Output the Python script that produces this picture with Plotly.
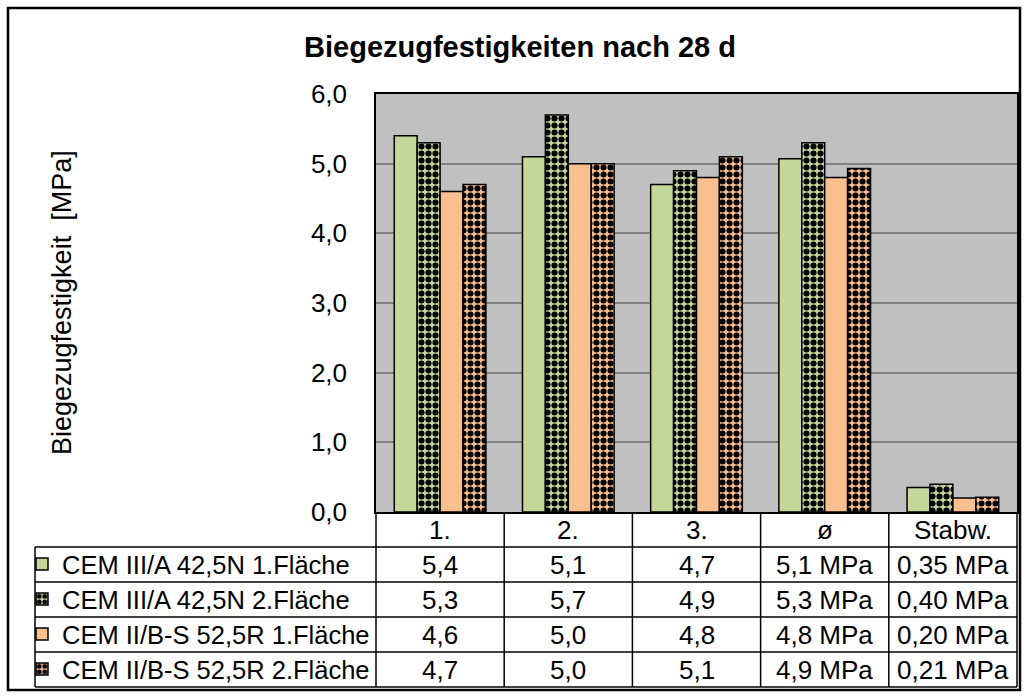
import plotly.graph_objects as go

W, H = 1028, 697

categories = ["1.", "2.", "3.", "ø", "Stabw."]
series_names = [
    "CEM III/A 42,5N 1.Fläche",
    "CEM III/A 42,5N 2.Fläche",
    "CEM II/B-S 52,5R 1.Fläche",
    "CEM II/B-S 52,5R 2.Fläche",
]
cem3_f1 = [5.4, 5.1, 4.7, 5.07, 0.35]
cem3_f2 = [5.3, 5.7, 4.9, 5.30, 0.40]
cem2_f1 = [4.6, 5.0, 4.8, 4.80, 0.20]
cem2_f2 = [4.7, 5.0, 5.1, 4.93, 0.21]
series_values = [cem3_f1, cem3_f2, cem2_f1, cem2_f2]

y_ticks = [0, 1, 2, 3, 4, 5, 6]

colors = ["#C4D79B", "#C4D79B", "#FABF8F", "#FABF8F"]
checkered = [False, True, False, True]

FONT = "Liberation Sans, Arial, sans-serif"
FS = 26

# layout geometry (pixels)
PL, PR, PT, PB = 376, 1017, 94, 512      # plot area
TL = 35                                   # table left edge
ROW_H = 35
ROW_TOPS = [PB + ROW_H * (i + 1) for i in range(len(series_names))]
TB = ROW_TOPS[-1] + ROW_H                 # table bottom


def px_x(p):
    return p / W


def px_y(p):
    return 1 - p / H


def fmt(v, d):
    return f"{v:.{d}f}".replace(".", ",")


fig = go.Figure()

for i, (name, vals, col, chk) in enumerate(zip(series_names, series_values, colors, checkered)):
    marker = dict(color=col, line=dict(color="black", width=1.5))
    if chk:
        marker["pattern"] = dict(shape=".", fgcolor="black", bgcolor=col,
                                 size=7, solidity=0.6, fillmode="replace")
    lg = "legend" if i == 0 else f"legend{i + 1}"
    fig.add_trace(go.Bar(x=categories, y=vals, name=name, marker=marker,
                         legend=lg, showlegend=True,
                         hovertemplate="%{x}: %{y}<extra>" + name + "</extra>"))

annotations = []
shapes = []

# header row: category labels (x given as category index)
for ci, c in enumerate(categories):
    annotations.append(dict(text=c, x=ci, xref="x", y=px_y(PB + ROW_H / 2), yref="paper",
                            showarrow=False, xanchor="center", yanchor="middle",
                            font=dict(family=FONT, size=FS, color="black")))

# value cells
for r, vals in enumerate(series_values):
    yc = px_y(ROW_TOPS[r] + ROW_H / 2)
    for ci, (c, v) in enumerate(zip(categories, vals)):
        if c == "ø":
            t = fmt(v, 1) + " MPa"
        elif c == "Stabw.":
            t = fmt(v, 2) + " MPa"
        else:
            t = fmt(v, 1)
        annotations.append(dict(text=t, x=ci, xref="x", y=yc, yref="paper",
                                showarrow=False, xanchor="center", yanchor="middle",
                                font=dict(family=FONT, size=FS, color="black")))

line = dict(color="black", width=1.5)
n = len(categories)
for k in range(n + 1):
    shapes.append(dict(type="line", xref="x domain", yref="paper",
                       x0=k / n, x1=k / n, y0=px_y(PB), y1=px_y(TB), line=line))
shapes.append(dict(type="line", xref="paper", yref="paper",
                   x0=px_x(TL), x1=px_x(TL), y0=px_y(ROW_TOPS[0]), y1=px_y(TB), line=line))
for yt in ROW_TOPS + [TB]:
    shapes.append(dict(type="line", xref="paper", yref="paper",
                       x0=px_x(TL), x1=px_x(PR), y0=px_y(yt), y1=px_y(yt), line=line))
shapes.append(dict(type="rect", xref="paper", yref="paper",
                   x0=px_x(8), x1=px_x(1020), y0=px_y(690), y1=px_y(8),
                   line=dict(color="black", width=2.5)))

annotations.append(dict(text="Biegezugfestigkeit  [MPa]", textangle=-90,
                        x=px_x(62), y=px_y(303), xref="paper", yref="paper",
                        xanchor="center", yanchor="middle", showarrow=False,
                        font=dict(family=FONT, size=27, color="black")))

layout_legends = {}
for i in range(len(series_names)):
    key = "legend" if i == 0 else f"legend{i + 1}"
    layout_legends[key] = dict(
        x=px_x(22), xanchor="left", y=px_y(ROW_TOPS[i] + ROW_H / 2), yanchor="middle",
        bgcolor="rgba(0,0,0,0)", borderwidth=0, visible=True,
        font=dict(family=FONT, size=25.5, color="black"),
        itemclick=False, itemdoubleclick=False)

fig.update_layout(
    width=W, height=H, autosize=False,
    margin=dict(l=0, r=0, t=0, b=0, pad=0, autoexpand=False),
    showlegend=True,
    paper_bgcolor="white",
    plot_bgcolor="#C0C0C0",
    separators=",.",
    barmode="group",
    bargap=0.285,
    bargroupgap=0,
    font=dict(family=FONT, size=FS, color="black"),
    title=dict(text="<b>Biegezugfestigkeiten nach 28 d</b>",
               x=px_x(520), xanchor="center", y=px_y(47), yanchor="middle",
               font=dict(family=FONT, size=29, color="black")),
    xaxis=dict(domain=[px_x(PL), px_x(PR)], showticklabels=False,
               showline=True, linecolor="black", linewidth=1.5, mirror=True,
               showgrid=False, anchor="y", fixedrange=True, automargin=False),
    yaxis=dict(domain=[px_y(PB), px_y(PT)], range=[0, 6], tickvals=y_ticks,
               tickformat=".1f", showline=True, linecolor="black", linewidth=1.5,
               mirror=True, showgrid=True, gridcolor="#808080", gridwidth=1.5,
               ticks="outside", ticklen=22, tickcolor="rgba(0,0,0,0)",
               zeroline=False, tickfont=dict(family=FONT, size=FS, color="black"),
               anchor="x", fixedrange=True, automargin=False),
    annotations=annotations,
    shapes=shapes,
    **layout_legends,
)

fig.write_html("out.html", config={"displayModeBar": False},
               post_script="document.body.style.margin='0';")
